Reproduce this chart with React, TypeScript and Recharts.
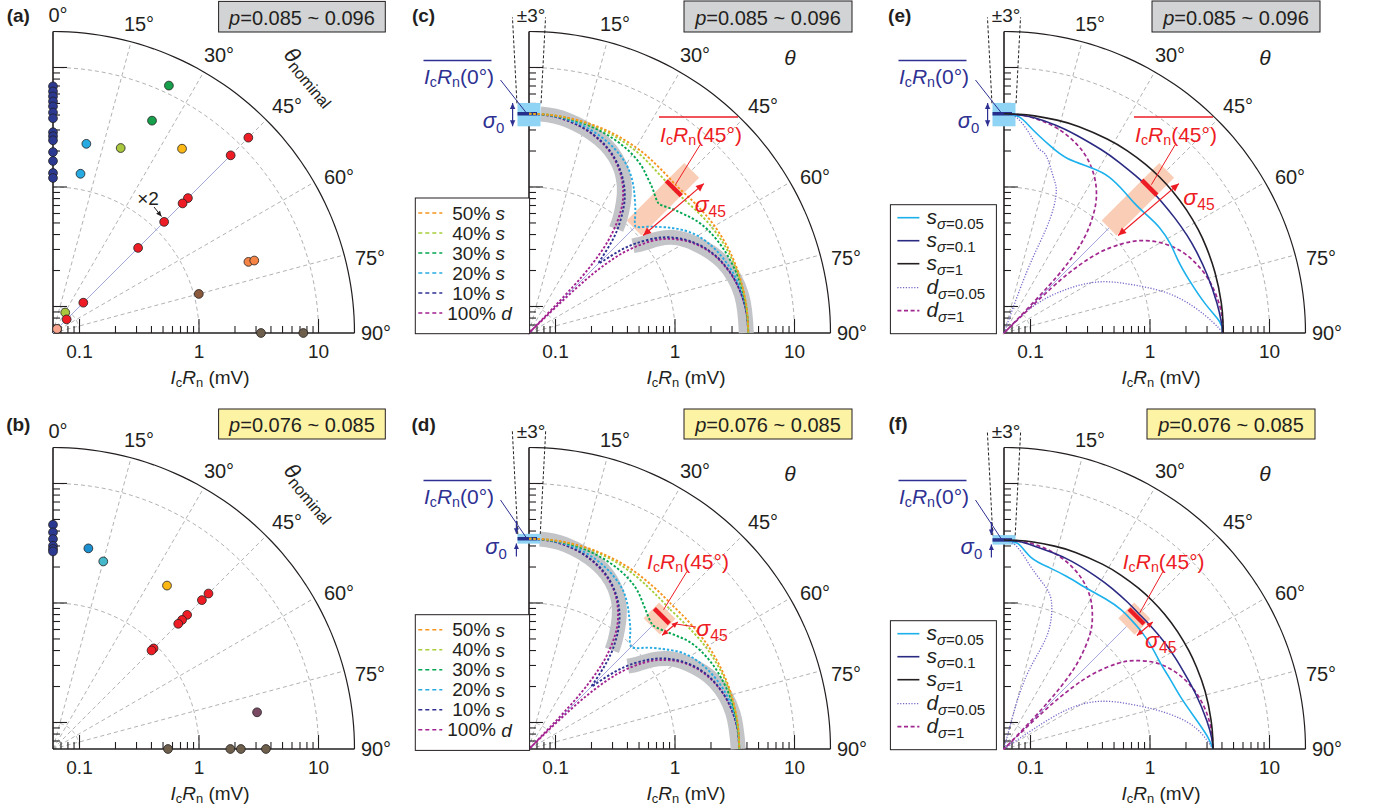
import React from "react";
import { ComposedChart, XAxis, YAxis, Line, Scatter, ReferenceLine, ReferenceDot } from "recharts";

// ---------- data (angle in degrees, IcRn in mV) ----------
// (a) p = 0.085 ~ 0.096
const A_AXIS_MV = [6.95, 6.3, 5.73, 5.2, 4.73, 4.2, 3.76, 2.87, 2.66, 2.46, 1.96, 1.65, 1.31, 1.19];
const A_TH = [25.1, 25, 10, 9.8, 20.1, 35, 45, 45, 45, 45, 45, 45, 45, 45, 30.8, 45, 70, 70.2, 75, 90, 90];
const A_MV = [11.6, 5.48, 2.43, 1.35, 2.67, 4.58, 12.3, 7.6, 2.37, 2.05, 1.24, 0.61, 0.137, 0.087, 0.095, 0.067, 3.3, 3.7, 1.1, 3.3, 7.46];
const A_GRP = ["g", "g", "b", "b", "y", "o", "r", "r", "r", "r", "r", "r", "r", "r", "y", "s", "a", "a", "m", "k", "k"];

// (b) p = 0.076 ~ 0.085
const B_AXIS_MV = [4.52, 3.9, 3.43, 3.01, 2.83, 2.7];
const B_TH = [10, 15, 34.9, 45, 45, 45, 45, 45, 45, 45, 79.8, 90, 90, 90, 90];
const B_MV = [3.04, 2.53, 2.79, 4.15, 3.47, 2.32, 2.02, 1.82, 0.93, 0.88, 3.26, 0.55, 1.83, 2.24, 3.63];
const B_GRP = ["c", "t", "o", "r", "r", "r", "r", "r", "r", "r", "p", "k", "k", "k", "k"];

// (c),(d) s+d mixtures, sampled at these angles
const TH = [0, 5, 10, 15, 20, 25, 30, 34, 37, 40, 42, 43.5, 44.5, 45, 45.5, 46.5, 48, 50, 53, 56, 60, 65, 70, 75, 80, 85, 90];
const C_D = [4.1, 4.04, 3.85, 3.55, 3.14, 2.64, 2.05, 1.54, 1.13, 0.71, 0.43, 0.21, 0.07, 0.06, 0.07, 0.21, 0.43, 0.71, 1.13, 1.54, 2.05, 2.64, 3.14, 3.55, 3.85, 4.04, 4.1];
const C_S10 = [4.1, 4.04, 3.86, 3.57, 3.17, 2.68, 2.1, 1.62, 1.24, 0.88, 0.66, 0.5, 0.42, 0.4, 0.42, 0.5, 0.66, 0.88, 1.24, 1.62, 2.1, 2.68, 3.17, 3.57, 3.86, 4.04, 4.1];
const C_S20 = [4.1, 4.06, 3.93, 3.7, 3.38, 3.0, 2.55, 2.1, 1.75, 1.45, 1.28, 1.16, 1.11, 1.09, 1.11, 1.16, 1.28, 1.45, 1.75, 2.1, 2.55, 3.0, 3.38, 3.7, 3.93, 4.06, 4.1];
const C_S30 = [4.1, 4.08, 4.0, 3.88, 3.7, 3.48, 3.2, 2.9, 2.62, 2.38, 2.22, 2.11, 2.06, 2.05, 2.06, 2.11, 2.22, 2.38, 2.62, 2.9, 3.2, 3.48, 3.7, 3.88, 4.0, 4.08, 4.1];
const C_S40 = [4.1, 4.09, 4.04, 3.96, 3.85, 3.7, 3.52, 3.35, 3.22, 3.12, 3.07, 3.04, 3.02, 3.02, 3.02, 3.04, 3.07, 3.12, 3.22, 3.35, 3.52, 3.7, 3.85, 3.96, 4.04, 4.09, 4.1];
const C_S50 = [4.1, 4.09, 4.06, 4.01, 3.94, 3.84, 3.72, 3.6, 3.5, 3.42, 3.37, 3.34, 3.33, 3.33, 3.33, 3.34, 3.37, 3.42, 3.5, 3.6, 3.72, 3.84, 3.94, 4.01, 4.06, 4.09, 4.1];

const D_D = [3.45, 3.4, 3.24, 2.99, 2.64, 2.22, 1.73, 1.29, 0.95, 0.6, 0.36, 0.18, 0.07, 0.06, 0.07, 0.18, 0.36, 0.6, 0.95, 1.29, 1.73, 2.22, 2.64, 2.99, 3.24, 3.4, 3.45];
const D_S10 = [3.45, 3.4, 3.25, 3.0, 2.67, 2.26, 1.77, 1.36, 1.04, 0.74, 0.55, 0.42, 0.35, 0.33, 0.35, 0.42, 0.55, 0.74, 1.04, 1.36, 1.77, 2.26, 2.67, 3.0, 3.25, 3.4, 3.45];
const D_S20 = [3.45, 3.42, 3.31, 3.12, 2.85, 2.52, 2.15, 1.77, 1.48, 1.25, 1.1, 1.01, 0.98, 0.97, 0.98, 1.01, 1.1, 1.25, 1.48, 1.77, 2.15, 2.52, 2.85, 3.12, 3.31, 3.42, 3.45];
const D_S30 = [3.45, 3.43, 3.37, 3.27, 3.12, 2.94, 2.7, 2.45, 2.2, 1.98, 1.86, 1.79, 1.76, 1.75, 1.76, 1.79, 1.86, 1.98, 2.2, 2.45, 2.7, 2.94, 3.12, 3.27, 3.37, 3.43, 3.45];
const D_S40 = [3.45, 3.44, 3.41, 3.36, 3.28, 3.18, 3.06, 2.95, 2.87, 2.81, 2.78, 2.76, 2.75, 2.75, 2.75, 2.76, 2.78, 2.81, 2.87, 2.95, 3.06, 3.18, 3.28, 3.36, 3.41, 3.44, 3.45];
const D_S50 = [3.45, 3.45, 3.43, 3.4, 3.35, 3.29, 3.22, 3.14, 3.09, 3.05, 3.02, 3.01, 3.0, 3.0, 3.0, 3.01, 3.02, 3.05, 3.09, 3.14, 3.22, 3.29, 3.35, 3.4, 3.43, 3.45, 3.45];

// band of the d-wave curve (upper and lower lobes)
const BAND_TH_UP = [3, 10, 20, 28, 33, 36, 38.5, 40];
const BAND_TH_LO = [50, 52, 54, 57, 62, 70, 80, 90];
const C_BAND_UP = [4.1, 3.9, 3.2, 2.4, 1.75, 1.32, 1.0, 0.82];
const C_BAND_LO = [0.82, 1.0, 1.32, 1.75, 2.3, 3.2, 3.85, 3.95];
const D_BAND_UP = [3.45, 3.28, 2.7, 2.02, 1.47, 1.11, 0.86, 0.72];
const D_BAND_LO = [0.72, 0.86, 1.11, 1.47, 1.95, 2.7, 3.24, 3.38];

// (e),(f) model curves for different angular spreads
const TS = [0, 4, 8, 14, 20, 28, 34, 40, 45, 50, 56, 62, 67, 74, 82, 87, 90];
const E_S1 = [4.1, 4.1, 4.1, 4.11, 4.12, 4.14, 4.16, 4.18, 4.18, 4.18, 4.17, 4.16, 4.14, 4.12, 4.11, 4.1, 4.1];
const E_S01 = [4.1, 4.05, 3.95, 3.72, 3.48, 3.27, 3.17, 3.12, 3.12, 3.12, 3.17, 3.27, 3.36, 3.52, 3.78, 3.97, 4.1];
const E_S005 = [4.1, 3.9, 3.15, 2.45, 2.15, 2.2, 2.25, 2.15, 2.08, 2.12, 2.24, 2.28, 2.27, 2.45, 3.05, 3.85, 4.1];
const E_D1 = [4.1, 4.04, 3.82, 3.5, 3.06, 2.55, 1.95, 1.45, 1.05, 0.68, 0.42, 0.21, 0.07, 0.06, 0.07, 0.21, 0.42, 0.68, 1.05, 1.45, 1.95, 2.55, 3.06, 3.5, 3.82, 4.04, 4.1];
const E_D005_TH_UP = [0, 3, 6, 8.5, 11, 13.5, 17.5, 20, 21.5, 22, 21, 20, 19.5];
const E_D005_UP = [4.1, 3.9, 3.2, 2.6, 2.2, 1.99, 1.41, 1.14, 0.83, 0.52, 0.29, 0.146, 0.06];
const E_D005_TH_LO = [47, 47.5, 55, 62, 69.5, 76, 82, 87, 90];
const E_D005_LO = [0.06, 0.128, 0.26, 0.49, 0.85, 1.5, 2.38, 3.37, 4.1];

const F_S1 = [3.37, 3.37, 3.37, 3.37, 3.38, 3.39, 3.4, 3.41, 3.41, 3.41, 3.4, 3.39, 3.38, 3.38, 3.37, 3.37, 3.37];
const F_S01 = [3.37, 3.3, 3.15, 2.95, 2.8, 2.6, 2.5, 2.42, 2.38, 2.4, 2.45, 2.52, 2.6, 2.8, 3.1, 3.3, 3.37];
const F_S005 = [3.37, 3.15, 2.5, 2.2, 2.06, 1.95, 1.97, 2.0, 1.97, 1.95, 1.9, 1.87, 1.93, 2.1, 2.6, 3.1, 3.37];
const F_D1 = [3.37, 3.32, 3.17, 2.92, 2.58, 2.17, 1.69, 1.26, 0.93, 0.58, 0.35, 0.17, 0.07, 0.06, 0.07, 0.17, 0.35, 0.58, 0.93, 1.26, 1.69, 2.17, 2.58, 2.92, 3.17, 3.32, 3.37];
const F_D005_TH_UP = [0, 3, 6, 9, 13, 17.5, 20.5, 20, 17, 15, 14];
const F_D005_UP = [3.37, 3.1, 2.5, 2.0, 1.61, 1.23, 0.74, 0.46, 0.26, 0.13, 0.06];
const F_D005_TH_LO = [50, 56, 58, 63.5, 71, 77.5, 83, 87.5, 90];
const F_D005_LO = [0.06, 0.118, 0.25, 0.47, 0.83, 1.48, 2.35, 3.0, 3.37];

// spreads at 0° and 45°: [low, mean, high] in mV
const C_SIG0 = [3.22, 4.1, 5.05];
const C_SIG45 = [1.05, 3.1, 5.05];
const D_SIG0 = [3.14, 3.45, 3.79];
const D_SIG45 = [1.7, 2.24, 2.6];
const E_SIG0 = [3.22, 4.1, 5.05];
const E_SIG45 = [1.05, 3.15, 5.05];
const F_SIG0 = [3.08, 3.37, 3.7];
const F_SIG45 = [1.69, 2.22, 2.6];

const TICK_MAJOR = [0.1, 1, 10];
const TICK_MAJOR_LABELS = ["0.1", "1", "10"];
const TICK_MINOR = [0.07, 0.08, 0.09, 0.2, 0.3, 0.4, 0.5, 0.6, 0.7, 0.8, 0.9, 2, 3, 4, 5, 6, 7, 8, 9];
const GRID_ARCS = [0.1, 1, 10];
const GRID_SPOKES = [15, 30, 45, 60, 75];
const ANGLE_LABELS = ["0°", "15°", "30°", "45°", "60°", "75°", "90°"];
const MIX_LABELS = ["50%", "40%", "30%", "20%", "10%", "100%"];
const MIX_KIND = ["s", "s", "s", "s", "s", "d"];
const SIGMA_LABELS = [["s", "0.05"], ["s", "0.1"], ["s", "1"], ["d", "0.05"], ["d", "1"]];

// ---------- styling / geometry ----------
const FONT = "'Liberation Sans', Arial, Helvetica, sans-serif";
const INK = "#231f20";
const GRID = "#a7a9ac";
const NAVY = "#2e3192";
const RED = "#ed1c24";
const K = 119.5; // px per decade
const MV0 = 0.06;
const MVMAX = 20;
const GRP_COLOR: Record<string, string> = {
  n: "#2b3990", b: "#27aae1", c: "#1c8fd0", t: "#45b8c9", y: "#a9c83f", g: "#16a04b",
  o: "#fbb714", r: "#ee1c25", a: "#f58343", m: "#8b5a3c", p: "#7a4a63", k: "#6e5f4c", s: "#f7a58e",
};
const MIX_COLOR = ["#f7941d", "#a6ce39", "#00a651", "#27aae1", "#2e3192", "#a3228f"];
const SIG_STYLE = [
  { c: "#1cb1ec", w: 1.6, d: undefined },
  { c: "#2b2a83", w: 1.6, d: undefined },
  { c: "#231f20", w: 1.6, d: undefined },
  { c: "#7567c8", w: 1.3, d: "1.2 1.6" },
  { c: "#a0288f", w: 1.7, d: "4 2.6" },
];
const ANGLE_POS = [[5, 318], [86, 309], [166, 278], [234, 227], [286, 156], [317, 75], [323, 0]];

type Pt = { x: number; y: number };
const rho = (mv: number) => Math.max(0, Math.log10(mv / MV0));
const pol = (deg: number, mv: number): Pt => {
  const r = rho(mv);
  const a = (deg * Math.PI) / 180;
  return { x: r * Math.sin(a), y: r * Math.cos(a) };
};
const off = (dx: number, up: number): Pt => ({ x: dx / K, y: up / K });
const polPx = (deg: number, rpx: number): Pt => {
  const a = (deg * Math.PI) / 180;
  return off(rpx * Math.sin(a), rpx * Math.cos(a));
};
const curve = (th: number[], mv: number[]) => th.map((t, i) => pol(t, mv[i]));

const ln = (key: string, data: Pt[], stroke: string, w: number, dash?: string, type: any = "linear") => (
  <Line key={key} data={data} dataKey="y" type={type} stroke={stroke} strokeWidth={w} strokeDasharray={dash}
    dot={false} activeDot={false} isAnimationActive={false} legendType="none" />
);

const seg = (key: string, a: Pt, b: Pt, stroke: string, w: number, dash?: string) => (
  <ReferenceLine key={key} segment={[a, b]} stroke={stroke} strokeWidth={w} strokeDasharray={dash} ifOverflow="visible" />
);

const arrow = (key: string, a: Pt, b: Pt, color: string, both: boolean, head = 7, w = 1.2) => (
  <ReferenceLine key={key} segment={[a, b]} ifOverflow="visible"
    shape={(p: any) => {
      const { x1, y1, x2, y2 } = p;
      const ang = Math.atan2(y2 - y1, x2 - x1);
      const hd = (x: number, y: number, t: number) => {
        const bx = x - head * Math.cos(t);
        const by = y - head * Math.sin(t);
        const hw = head * 0.45;
        return `${x},${y} ${bx + hw * Math.sin(t)},${by - hw * Math.cos(t)} ${bx - hw * Math.sin(t)},${by + hw * Math.cos(t)}`;
      };
      return (
        <g>
          <line x1={x1} y1={y1} x2={x2} y2={y2} stroke={color} strokeWidth={w} />
          <polygon points={hd(x2, y2, ang)} fill={color} />
          {both && <polygon points={hd(x1, y1, ang + Math.PI)} fill={color} />}
        </g>
      );
    }}
  />
);

type TO = { size?: number; anchor?: string; color?: string; bold?: boolean; italic?: boolean; rotate?: number };
const txt = (key: string, at: Pt, content: React.ReactNode, o: TO = {}) => (
  <ReferenceDot key={key} x={at.x} y={at.y} r={1} ifOverflow="visible"
    shape={(p: any) => (
      <text x={p.cx} y={p.cy} textAnchor={(o.anchor ?? "middle") as any} dominantBaseline="central"
        fontSize={o.size ?? 19} fill={o.color ?? INK} fontFamily={FONT}
        fontWeight={o.bold ? "bold" : "normal"} fontStyle={o.italic ? "italic" : "normal"}
        transform={o.rotate ? `rotate(${o.rotate} ${p.cx} ${p.cy})` : undefined}>
        {content}
      </text>
    )}
  />
);

const icrn = (tail: string, size: number) => (
  <>
    <tspan fontStyle="italic">I</tspan>
    <tspan fontSize={size * 0.68} dy={size * 0.28}>c</tspan>
    <tspan fontStyle="italic" dy={-size * 0.28}>R</tspan>
    <tspan fontSize={size * 0.68} dy={size * 0.28}>n</tspan>
    <tspan dy={-size * 0.28}>{tail}</tspan>
  </>
);
const sig = (sub: string, size: number) => (
  <>
    <tspan fontStyle="italic">σ</tspan>
    <tspan fontSize={size * 0.68} dy={size * 0.3}>{sub}</tspan>
  </>
);

const pbox = (key: string, left: number, up: number, w: number, h: number, fill: string, label: string) => (
  <ReferenceDot key={key} x={left / K} y={up / K} r={1} ifOverflow="visible"
    shape={(p: any) => (
      <g>
        <rect x={p.cx} y={p.cy} width={w} height={h} fill={fill} stroke={INK} strokeWidth={1} />
        <text x={p.cx + w / 2} y={p.cy + h / 2 + 1} textAnchor="middle" dominantBaseline="central" fontSize={20} fill={INK} fontFamily={FONT}>
          <tspan fontStyle="italic">p</tspan>
          <tspan>{label}</tspan>
        </text>
      </g>
    )}
  />
);

const mixLegend = (key: string, up: number) => (
  <ReferenceDot key={key} x={-113.7 / K} y={up / K} r={1} ifOverflow="visible"
    shape={(p: any) => (
      <g>
        <rect x={p.cx} y={p.cy} width={114.3} height={135.7} fill="#fff" stroke={INK} strokeWidth={1} />
        {MIX_LABELS.map((l, i) => {
          const y = p.cy + 15 + i * 20;
          return (
            <g key={l}>
              <line x1={p.cx + 3} x2={p.cx + 27} y1={y} y2={y} stroke={MIX_COLOR[i]} strokeWidth={1.6} strokeDasharray="4 3" />
              <text x={p.cx + (i === 5 ? 32 : 37)} y={y} dominantBaseline="central" fontSize={19} fill={INK} fontFamily={FONT}>
                {l + " "}
                <tspan fontStyle="italic">{MIX_KIND[i]}</tspan>
              </text>
            </g>
          );
        })}
      </g>
    )}
  />
);

const sigmaLegend = (key: string, up: number) => (
  <ReferenceDot key={key} x={-113.6 / K} y={up / K} r={1} ifOverflow="visible"
    shape={(p: any) => (
      <g>
        <rect x={p.cx} y={p.cy} width={106} height={129} fill="#fff" stroke={INK} strokeWidth={1} />
        {SIGMA_LABELS.map(([k, v], i) => {
          const y = p.cy + [13, 36, 59, 83, 106][i];
          const st = SIG_STYLE[i];
          return (
            <g key={k + v}>
              <line x1={p.cx + 7} x2={p.cx + 29} y1={y} y2={y} stroke={st.c} strokeWidth={st.w} strokeDasharray={st.d} />
              <text x={p.cx + 36} y={y - 2} dominantBaseline="central" fontSize={21} fill={INK} fontFamily={FONT}>
                <tspan fontStyle="italic">{k}</tspan>
                <tspan fontSize={15} dy={7}>
                  <tspan fontStyle="italic">σ</tspan>={v}
                </tspan>
              </text>
            </g>
          );
        })}
      </g>
    )}
  />
);

// grid, axes and labels common to all six quarter-polar panels
function gridEls(id: string, letter: string, letterUp: number, letterDx: number, nominal: boolean) {
  const els: React.ReactElement[] = [];
  const deg = Array.from({ length: 61 }, (_, i) => i * 1.5);
  GRID_ARCS.forEach((v) => els.push(ln(`${id}ga${v}`, deg.map((d) => pol(d, v)), GRID, 0.9, "4 3")));
  GRID_SPOKES.forEach((d) => els.push(ln(`${id}sp${d}`, [pol(d, MV0), pol(d, MVMAX)], GRID, 0.9, "4 3")));
  els.push(ln(`${id}arc`, deg.map((d) => pol(d, MVMAX)), INK, 1.2));
  els.push(ln(`${id}ax0`, [pol(0, MV0), pol(0, MVMAX)], INK, 1.6));
  els.push(ln(`${id}ax90`, [pol(90, MV0), pol(90, MVMAX)], INK, 1.6));
  TICK_MAJOR.concat(TICK_MINOR).forEach((v) => {
    const r = rho(v) * K;
    const L = TICK_MAJOR.includes(v) ? 14 : 7;
    els.push(seg(`${id}tx${v}`, off(r, 0), off(r, L), INK, 1.1));
    els.push(seg(`${id}ty${v}`, off(0, r), off(L, r), INK, 1.1));
  });
  TICK_MAJOR.forEach((v, i) => els.push(txt(`${id}tl${v}`, off(rho(v) * K, -18), TICK_MAJOR_LABELS[i], { size: 19 })));
  els.push(txt(`${id}title`, off(157, -44), icrn(" (mV)", 19), { size: 19 }));
  // panels (c)-(f) carry the ±3° label where the 0° label would sit
  ANGLE_LABELS.forEach((l, i) => {
    if (i === 0 && !nominal) return;
    els.push(txt(`${id}al${i}`, off(ANGLE_POS[i][0], ANGLE_POS[i][1]), l, { size: 20 }));
  });
  els.push(txt(`${id}let`, off(letterDx, letterUp), letter, { size: 19, bold: true }));
  if (nominal) {
    els.push(txt(`${id}nom`, off(236, 283), (
      <>
        <tspan fontStyle="italic" fontSize={22}>θ</tspan>
        <tspan fontSize={16} dy={6}>nominal</tspan>
      </>
    ), { anchor: "start", rotate: 50 }));
  } else {
    els.push(txt(`${id}th`, off(261, 276), "θ", { size: 21, italic: true }));
  }
  return els;
}

function dotEls(id: string, axisMv: number[], th: number[], mv: number[], grp: string[]) {
  const groups: Record<string, Pt[]> = { n: axisMv.map((v) => pol(0, v)) };
  th.forEach((t, i) => {
    (groups[grp[i]] = groups[grp[i]] || []).push(pol(t, mv[i]));
  });
  return Object.keys(groups).map((g) => {
    const col = GRP_COLOR[g];
    return (
      <Scatter key={`${id}dot${g}`} data={groups[g]} dataKey="y" isAnimationActive={false} legendType="none"
        shape={(p: any) => <circle cx={p.cx} cy={p.cy} r={4.4} fill={col} stroke={INK} strokeWidth={0.8} />} />
    );
  });
}

type Ann = {
  id: string; s0: number[]; s45: number[]; small: boolean; up0: number; sig0: number[];
  lab45: number[]; bar45: boolean; lead45: number[]; sig45: number[]; sigLead?: number[];
};

function underEls(a: Ann) {
  const [lo0, , hi0] = a.s0;
  const rlo = rho(lo0) * K, rhi = rho(hi0) * K;
  const mid = (rlo + rhi) / 2;
  const m0 = rho(a.s0[1]) * K;
  return [
    ln(`${a.id}box0`, [off(-11.5, mid), off(11.5, mid)], "#8fd4f4", rhi - rlo),
    ln(`${a.id}bar0`, [off(-11.5, m0), off(8, m0)], "#262f8a", 3.5),
    ln(`${a.id}rect45`, [pol(45, a.s45[0]), pol(45, a.s45[2])], "#f9cdb6", a.small ? 23 : 21),
    ln(`${a.id}lav`, [pol(45, MV0), pol(45, a.s45[0])], "#a6a8e2", 1),
  ];
}

function overEls(a: Ann) {
  const els: React.ReactElement[] = [];
  const id = a.id;
  const [lo0, mean0, hi0] = a.s0;
  const rlo = rho(lo0) * K, rhi = rho(hi0) * K, rm = rho(mean0) * K;
  // red tangential bar at 45°
  const c45 = rho(a.s45[1]) * K;
  const cx = c45 * Math.SQRT1_2;
  els.push(ln(`${id}bar45`, [off(cx - 7.5, cx + 7.5), off(cx + 7.5, cx - 7.5)], RED, 4.5));
  // ±3° guides
  const topR = a.small ? 319 : 316;
  els.push(seg(`${id}g3l`, polPx(-3, rhi), polPx(-3, topR), INK, 1, "3 2"));
  els.push(seg(`${id}g3r`, polPx(3, rhi), polPx(3, topR), INK, 1, "3 2"));
  els.push(txt(`${id}pm3`, off(2, 318), "±3°", { size: 19 }));
  // sigma_0 arrows
  if (a.small) {
    els.push(arrow(`${id}s0a`, off(-12.6, rhi + 13), off(-12.6, rhi), NAVY, false, 5.5));
    els.push(arrow(`${id}s0b`, off(-12.6, rlo - 13), off(-12.6, rlo), NAVY, false, 5.5));
  } else {
    els.push(arrow(`${id}s0`, off(-16.4, rlo), off(-16.4, rhi), NAVY, true, 6));
  }
  els.push(txt(`${id}s0t`, off(a.sig0[0], a.sig0[1]), sig("0", 22), { size: 22, color: NAVY }));
  // mean IcRn(0°) label
  els.push(txt(`${id}l0`, off(-70, a.up0), icrn("(0°)", 21), { size: 21, color: NAVY }));
  els.push(seg(`${id}o0`, off(-105.5, a.up0 + 15.5), off(-37.5, a.up0 + 15.5), NAVY, 1.5));
  els.push(seg(`${id}ld0`, off(-28.5, a.up0 - 4), off(-2, rm), NAVY, 1));
  // mean IcRn(45°) label
  els.push(txt(`${id}l45`, off(a.lab45[0], a.lab45[1]), icrn("(45°)", 21), { size: 21, color: RED }));
  if (a.bar45) els.push(seg(`${id}o45`, off(a.lab45[0] - 42, 216), off(a.lab45[0] + 37, 216), RED, 1.5));
  els.push(seg(`${id}ld45`, off(a.lead45[0], a.lead45[1]), off(a.lead45[2], a.lead45[3]), RED, 1));
  // sigma_45
  els.push(arrow(`${id}s45`, pol(49.5, a.s45[0] * 1.03), pol(49.5, a.s45[2]), RED, true, a.small ? 6 : 8));
  els.push(txt(`${id}s45t`, off(a.sig45[0], a.sig45[1]), sig("45", 23), { size: 23, color: RED }));
  if (a.sigLead) els.push(seg(`${id}sld`, off(a.sigLead[0], a.sigLead[1]), off(a.sigLead[2], a.sigLead[3]), RED, 1));
  return els;
}

function bandEls(id: string, bandUp: number[], bandLo: number[]) {
  return [
    ln(`${id}bandU`, curve(BAND_TH_UP, bandUp), "#c3c4c8", 15, undefined, "natural"),
    ln(`${id}bandL`, curve(BAND_TH_LO, bandLo), "#c3c4c8", 15, undefined, "natural"),
  ];
}

function mixLines(id: string, set: number[][]) {
  // draw 100% d first, 50% s last
  return [5, 4, 3, 2, 1, 0].map((i) => ln(`${id}mix${i}`, curve(TH, set[i]), MIX_COLOR[i], 1.9, "2.4 1.9", "natural"));
}

function sigmaLines(id: string, s005: number[], s01: number[], s1: number[], d1: number[],
  thUp: number[], dUp: number[], thLo: number[], dLo: number[]) {
  return [
    ln(`${id}d005u`, curve(thUp, dUp), SIG_STYLE[3].c, SIG_STYLE[3].w, SIG_STYLE[3].d, "natural"),
    ln(`${id}d005l`, curve(thLo, dLo), SIG_STYLE[3].c, SIG_STYLE[3].w, SIG_STYLE[3].d, "natural"),
    ln(`${id}d1`, curve(TH, d1), SIG_STYLE[4].c, SIG_STYLE[4].w, SIG_STYLE[4].d, "natural"),
    ln(`${id}s005`, curve(TS, s005), SIG_STYLE[0].c, SIG_STYLE[0].w, undefined, "natural"),
    ln(`${id}s01`, curve(TS, s01), SIG_STYLE[1].c, SIG_STYLE[1].w, undefined, "natural"),
    ln(`${id}s1`, curve(TS, s1), SIG_STYLE[2].c, SIG_STYLE[2].w, undefined, "natural"),
  ];
}

const GRAY_BOX = "#d1d3d4";
const YELLOW_BOX = "#fdf3a4";

function panelA() {
  return [
    ...gridEls("a", "(a)", 318, -34.7, true),
    ln("alav", [pol(45, MV0), pol(45, 7.6)], "#a6a8e2", 1),
    ...dotEls("a", A_AXIS_MV, A_TH, A_MV, A_GRP),
    txt("ax2", off(95, 135), "×2", { size: 19 }),
    arrow("ax2a", off(101, 126), off(108.5, 116.5), INK, false, 5.5, 1),
    pbox("apb", 165.6, 331.6, 166.7, 30.6, GRAY_BOX, "=0.085 ~ 0.096"),
  ];
}

function panelB() {
  return [
    ...gridEls("b", "(b)", 325, -34.7, true),
    ...dotEls("b", B_AXIS_MV, B_TH, B_MV, B_GRP),
    pbox("bpb", 165.6, 340, 166.7, 30, YELLOW_BOX, "=0.076 ~ 0.085"),
  ];
}

const ANN_C: Ann = { id: "c", s0: C_SIG0, s45: C_SIG45, small: false, up0: 257, sig0: [-35.4, 213], lab45: [172, 199], bar45: true, lead45: [171, 188, 146.5, 148.5], sig45: [181.3, 129.3] };
const ANN_D: Ann = { id: "d", s0: D_SIG0, s45: D_SIG45, small: true, up0: 253, sig0: [-33, 203], lab45: [159, 187.6], bar45: false, lead45: [158, 177.6, 134.6, 139.3], sig45: [183, 121], sigLead: [167, 122, 147, 125] };
const ANN_E: Ann = { id: "e", s0: E_SIG0, s45: E_SIG45, small: false, up0: 257, sig0: [-35.4, 213], lab45: [172, 199], bar45: true, lead45: [171, 188, 147.4, 148.3], sig45: [195, 135.8] };
const ANN_F: Ann = { id: "f", s0: F_SIG0, s45: F_SIG45, small: true, up0: 253, sig0: [-32.6, 202.6], lab45: [159.7, 187.6], bar45: false, lead45: [159, 177.6, 135.7, 136], sig45: [156.7, 109.3] };

function panelC() {
  const set = [C_S50, C_S40, C_S30, C_S20, C_S10, C_D];
  return [
    ...gridEls("c", "(c)", 318, -105.4, false),
    ...bandEls("c", C_BAND_UP, C_BAND_LO),
    ...underEls(ANN_C),
    ...mixLines("c", set),
    ...overEls(ANN_C),
    mixLegend("cleg", 135),
    pbox("cpb", 155, 332, 168, 31, GRAY_BOX, "=0.085 ~ 0.096"),
  ];
}

function panelD() {
  const set = [D_S50, D_S40, D_S30, D_S20, D_S10, D_D];
  return [
    ...gridEls("d", "(d)", 325, -105.4, false),
    ...bandEls("d", D_BAND_UP, D_BAND_LO),
    ...underEls(ANN_D),
    ...mixLines("d", set),
    ...overEls(ANN_D),
    mixLegend("dleg", 134.3),
    pbox("dpb", 155, 340, 168, 30, YELLOW_BOX, "=0.076 ~ 0.085"),
  ];
}

function panelE() {
  return [
    ...gridEls("e", "(e)", 318, -104.3, false),
    ...underEls(ANN_E),
    ...sigmaLines("e", E_S005, E_S01, E_S1, E_D1, E_D005_TH_UP, E_D005_UP, E_D005_TH_LO, E_D005_LO),
    ...overEls(ANN_E),
    sigmaLegend("eleg", 128.3),
    pbox("epb", 148, 332, 168, 31, GRAY_BOX, "=0.085 ~ 0.096"),
  ];
}

function panelF() {
  return [
    ...gridEls("f", "(f)", 326, -106, false),
    ...underEls(ANN_F),
    ...sigmaLines("f", F_S005, F_S01, F_S1, F_D1, F_D005_TH_UP, F_D005_UP, F_D005_TH_LO, F_D005_LO),
    ...overEls(ANN_F),
    sigmaLegend("fleg", 128.3),
    pbox("fpb", 143, 340, 168, 30, YELLOW_BOX, "=0.076 ~ 0.085"),
  ];
}

const PL = 130, PT = 342, PW = 505, PH = 404;

function Panel({ ox, oy, els }: { ox: number; oy: number; els: React.ReactElement[] }) {
  return (
    <div style={{ position: "absolute", left: ox - PL, top: oy - PT, width: PW, height: PH }}>
      <ComposedChart width={PW} height={PH} margin={{ top: 0, right: 0, bottom: 0, left: 0 }} style={{ overflow: "visible" }}>
        <XAxis type="number" dataKey="x" domain={[-PL / K, (PW - PL) / K]} allowDataOverflow hide />
        <YAxis type="number" dataKey="y" domain={[-(PH - PT) / K, PT / K]} allowDataOverflow hide />
        {els}
      </ComposedChart>
    </div>
  );
}

export default function App() {
  return (
    <div style={{ position: "absolute", left: 0, top: 0, width: 1379, height: 810, background: "#fff", overflow: "hidden", fontFamily: FONT }}>
      <Panel ox={52.7} oy={333.3} els={panelA()} />
      <Panel ox={52.7} oy={749.3} els={panelB()} />
      <Panel ox={528.7} oy={333.3} els={panelC()} />
      <Panel ox={528.7} oy={749.3} els={panelD()} />
      <Panel ox={1004.3} oy={333.3} els={panelE()} />
      <Panel ox={1004.3} oy={749.3} els={panelF()} />
    </div>
  );
}
